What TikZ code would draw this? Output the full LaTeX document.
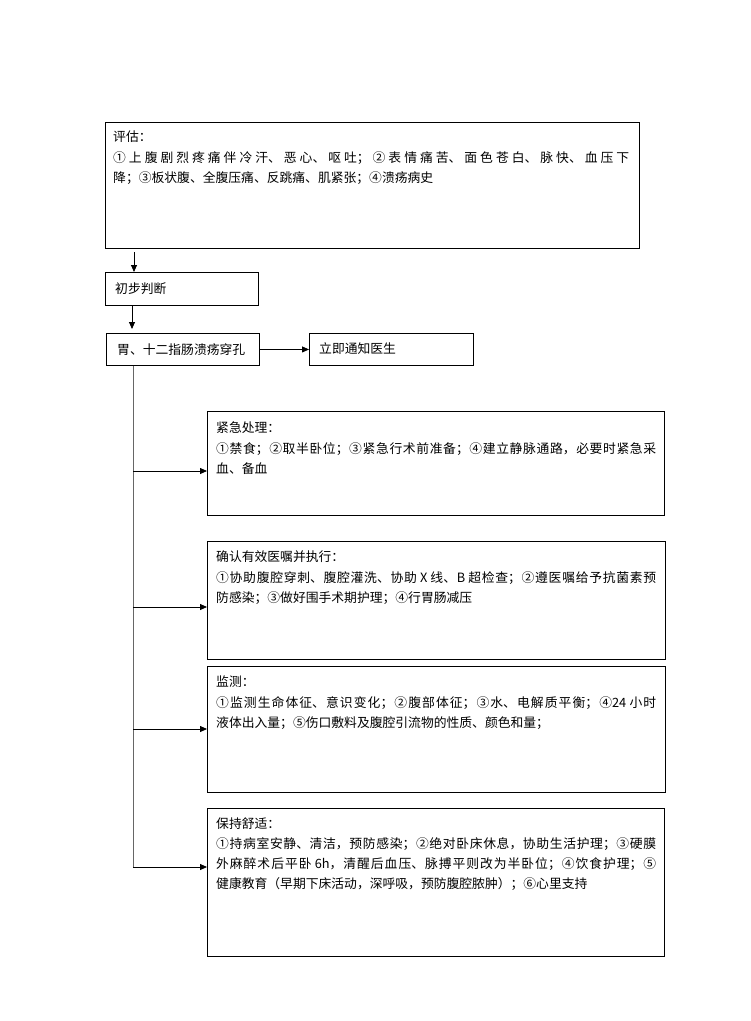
\documentclass[tikz,border=0pt]{standalone}
\usepackage{fontspec}
\setmainfont{Noto Sans CJK SC}
\usetikzlibrary{arrows.meta,calc}
\XeTeXlinebreaklocale "zh"
\XeTeXlinebreakskip=0pt plus 4pt minus 0.4pt
\begin{document}
\begin{tikzpicture}[x=1pt,y=-1pt,
  box/.style={draw=black, line width=0.9pt, anchor=north west, inner sep=0pt},
  txt/.style={anchor=north west, inner sep=0pt, text width=#1pt, align=justify,
              font=\fontsize{12.8}{20.3}\selectfont},
  lbl/.style={anchor=west, inner sep=0pt, font=\fontsize{12.8}{20.3}\selectfont},
  arr/.style={draw=black, line width=0.8pt, -{Triangle[length=7pt,width=6pt]}},
  trunk/.style={draw=black!60, line width=1pt}]
\useasboundingbox[fill=white] (0,0) rectangle (751,1021);

% boxes
\node[box, minimum width=534pt, minimum height=126pt] (b1) at (105,122) {};
\node[box, minimum width=153pt, minimum height=33pt] (b2) at (105,272) {};
\node[box, minimum width=153pt, minimum height=32pt] (b3) at (106,333) {};
\node[box, minimum width=164pt, minimum height=32pt] (b4) at (309,333) {};
\node[box, minimum width=457pt, minimum height=104pt] (b5) at (207,411) {};
\node[box, minimum width=458pt, minimum height=118pt] (b6) at (207,541) {};
\node[box, minimum width=458pt, minimum height=126pt] (b7) at (207,666) {};
\node[box, minimum width=457pt, minimum height=148pt] (b8) at (207,808) {};

% texts
\node[txt=516] (t1) at (113,131) {评估：\\①上腹剧烈疼痛伴冷汗、恶心、呕吐；②表情痛苦、面色苍白、脉快、血压下\linebreak 降；③板状腹、全腹压痛、反跳痛、肌紧张；④溃疡病史};
\node[lbl] (t2) at (115,289) {初步判断};
\node[lbl] (t3) at (117,350) {胃、十二指肠溃疡穿孔};
\node[lbl] (t4) at (319,349) {立即通知医生};
\node[txt=440] (t5) at (216,422) {紧急处理：\\①禁食；②取半卧位；③紧急行术前准备；④建立静脉通路，必要时紧急采\linebreak 血、备血};
\node[txt=440] (t6) at (216,551) {确认有效医嘱并执行：\\①协助腹腔穿刺、腹腔灌洗、协助 X 线、B 超检查；②遵医嘱给予抗菌素预\linebreak 防感染；③做好围手术期护理；④行胃肠减压};
\node[txt=440] (t7) at (216,676) {监测：\\①监测生命体征、意识变化；②腹部体征；③水、电解质平衡；④24 小时\linebreak 液体出入量；⑤伤口敷料及腹腔引流物的性质、颜色和量；};
\node[txt=440] (t8) at (216,817) {保持舒适：\\①持病室安静、清洁，预防感染；②绝对卧床休息，协助生活护理；③硬膜\linebreak 外麻醉术后平卧 6h，清醒后血压、脉搏平则改为半卧位；④饮食护理；⑤\linebreak 健康教育（早期下床活动，深呼吸，预防腹腔脓肿）；⑥心里支持};

% connectors
\coordinate (a1) at (134,252);
\draw[arr] (a1) -- (a1 |- b2.north);
\coordinate (a2) at (132,0);
\draw[arr, shorten >=4pt] (a2 |- b2.south) -- (a2 |- b3.north);
\draw[arr] (b3.east) -- (b4.west);

\coordinate (tr) at (133,0);
\coordinate (j5) at (133,471);
\coordinate (j6) at (133,607);
\coordinate (j7) at (133,729);
\coordinate (j8) at (133,867);
\draw[trunk] (tr |- b3.south) -- (j8);
\draw[arr] (j5) -- (j5 -| b5.west);
\draw[arr] (j6) -- (j6 -| b6.west);
\draw[arr] (j7) -- (j7 -| b7.west);
\draw[arr] (j8) -- (j8 -| b8.west);
\end{tikzpicture}
\end{document}
